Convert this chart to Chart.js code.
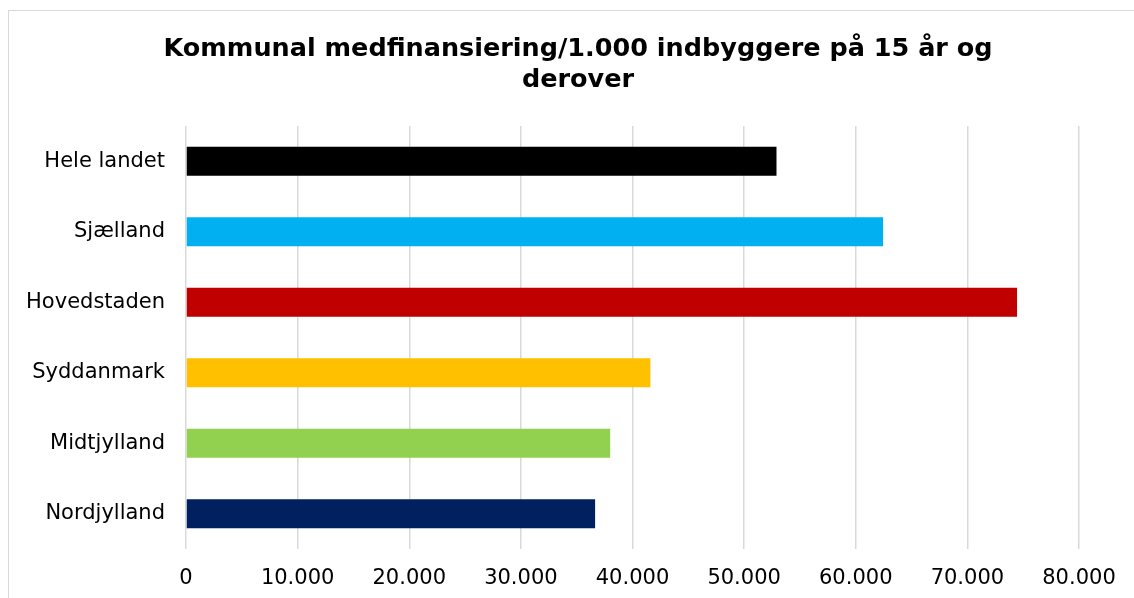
<!DOCTYPE html>
<html lang="da">
<head>
  <meta charset="UTF-8">
  <title>Kommunal medfinansiering</title>
  <script src="https://cdn.jsdelivr.net/npm/chart.js@4.4.1/dist/chart.umd.min.js"></script>
  <style>
    html, body { margin: 0; padding: 0; background: #fff; overflow: hidden; }
    #wrap { position: relative; width: 1134px; height: 598px; }
    #frame { position: absolute; left: 8px; top: 10px; width: 1200px; height: 700px;
             border: 1px solid #d9d9d9; box-sizing: border-box; }
    canvas { position: absolute; left: 0; top: 0; }
  </style>
</head>
<body>
<div id="wrap">
  <div id="frame"></div>
  <canvas id="chart" width="1134" height="598"></canvas>
</div>
<script>
// regioner og beløb pr. 1.000 indbyggere
const regions = ['Hele landet', 'Sjælland', 'Hovedstaden', 'Syddanmark', 'Midtjylland', 'Nordjylland'];
const amounts = [52900, 62450, 74450, 41600, 38000, 36650];
const barColors = ['#000000', '#00B0F0', '#C00000', '#FFC000', '#92D050', '#002060'];
const titleLines = ['Kommunal medfinansiering/1.000 indbyggere på 15 år og', 'derover'];
const xMax = 80000;
const xStep = 10000;

const fontFamily = '"DejaVu Sans", Verdana, sans-serif';

// tusindtalsseparator med punktum
function fmt(v) {
  return String(v).replace(/\B(?=(\d{3})+(?!\d))/g, '.');
}

// titlen er centreret over hele rammen (som er bredere end billedet)
const titlePlugin = {
  id: 'frameTitle',
  afterDraw(chart) {
    const ctx = chart.ctx;
    ctx.save();
    ctx.fillStyle = '#000';
    ctx.font = 'bold 25.5px ' + fontFamily;
    ctx.textAlign = 'center';
    ctx.textBaseline = 'alphabetic';
    titleLines.forEach((line, i) => ctx.fillText(line, 578, 56 + i * 31));
    ctx.restore();
  }
};

new Chart(document.getElementById('chart'), {
  type: 'bar',
  data: {
    labels: regions,
    datasets: [{
      data: amounts,
      backgroundColor: barColors,
      borderWidth: 0,
      barPercentage: 0.41,
      categoryPercentage: 1
    }]
  },
  options: {
    indexAxis: 'y',
    responsive: false,
    animation: false,
    layout: { padding: { left: 0, right: 55, top: 126, bottom: 0 } },
    plugins: {
      legend: { display: false },
      tooltip: { enabled: false },
      title: { display: false }
    },
    scales: {
      x: {
        min: 0,
        max: xMax,
        border: { display: false },
        grid: { color: '#d9d9d9', lineWidth: 1.5, drawTicks: false },
        ticks: {
          stepSize: xStep,
          padding: 17,
          color: '#000',
          font: { family: fontFamily, size: 21 },
          callback: v => fmt(v)
        },
        afterFit: s => { s.height = 49; }
      },
      y: {
        border: { display: false },
        grid: { display: false, drawTicks: false },
        ticks: {
          padding: 21,
          color: '#000',
          font: { family: fontFamily, size: 21 }
        },
        afterFit: s => { s.width = 186; }
      }
    }
  },
  plugins: [titlePlugin]
});
</script>
</body>
</html>
